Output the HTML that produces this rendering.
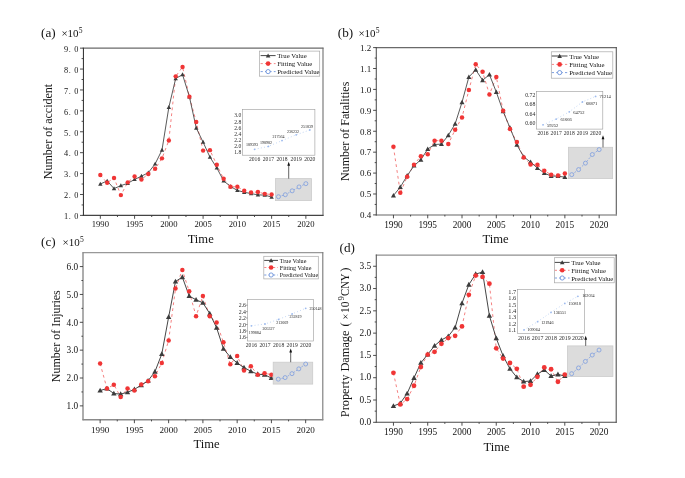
<!DOCTYPE html><html><head><meta charset="utf-8"><style>html,body{margin:0;padding:0;background:#fff;}svg{display:block;filter:blur(0.35px);}</style></head><body>
<svg width="685" height="478" viewBox="0 0 685 478" font-family='"Liberation Serif", serif' fill="#141414">
<rect width="685" height="478" fill="#fff"/>
<path d="M82.7 48.15H323.5" stroke="#6a6a6a" stroke-width="1.2"/>
<path d="M323 47.65V215.9" stroke="#707070" stroke-width="1.1"/>
<path d="M82.7 215.4H323.5" stroke="#444" stroke-width="1.1"/>
<path d="M83.45 47.65V215.9" stroke="#3a3a3a" stroke-width="1.1"/>
<path d="M80 215.4H83.2M80 194.49H83.2M80 173.59H83.2M80 152.68H83.2M80 131.78H83.2M80 110.87H83.2M80 89.96H83.2M80 69.06H83.2M80 48.15H83.2M81.6 204.95H83.2M81.6 184.04H83.2M81.6 163.13H83.2M81.6 142.23H83.2M81.6 121.32H83.2M81.6 100.42H83.2M81.6 79.51H83.2M81.6 58.6H83.2M100.33 215.4V218.8M134.59 215.4V218.8M168.84 215.4V218.8M203.1 215.4V218.8M237.36 215.4V218.8M271.61 215.4V218.8M305.87 215.4V218.8M117.46 215.4V217M151.71 215.4V217M185.97 215.4V217M220.23 215.4V217M254.49 215.4V217M288.74 215.4V217" stroke="#3a3a3a" stroke-width="0.9" fill="none"/>
<text x="79.05" y="216.7" font-size="8.3" text-anchor="end" dominant-baseline="central" letter-spacing="0.65">1. 0</text>
<text x="79.05" y="195.79" font-size="8.3" text-anchor="end" dominant-baseline="central" letter-spacing="0.65">2. 0</text>
<text x="79.05" y="174.89" font-size="8.3" text-anchor="end" dominant-baseline="central" letter-spacing="0.65">3. 0</text>
<text x="79.05" y="153.98" font-size="8.3" text-anchor="end" dominant-baseline="central" letter-spacing="0.65">4. 0</text>
<text x="79.05" y="133.08" font-size="8.3" text-anchor="end" dominant-baseline="central" letter-spacing="0.65">5. 0</text>
<text x="79.05" y="112.17" font-size="8.3" text-anchor="end" dominant-baseline="central" letter-spacing="0.65">6. 0</text>
<text x="79.05" y="91.26" font-size="8.3" text-anchor="end" dominant-baseline="central" letter-spacing="0.65">7. 0</text>
<text x="79.05" y="70.36" font-size="8.3" text-anchor="end" dominant-baseline="central" letter-spacing="0.65">8. 0</text>
<text x="79.05" y="49.45" font-size="8.3" text-anchor="end" dominant-baseline="central" letter-spacing="0.65">9. 0</text>
<text x="100.33" y="227.2" font-size="8.6" text-anchor="middle">1990</text>
<text x="134.59" y="227.2" font-size="8.6" text-anchor="middle">1995</text>
<text x="168.84" y="227.2" font-size="8.6" text-anchor="middle">2000</text>
<text x="203.1" y="227.2" font-size="8.6" text-anchor="middle">2005</text>
<text x="237.36" y="227.2" font-size="8.6" text-anchor="middle">2010</text>
<text x="271.61" y="227.2" font-size="8.6" text-anchor="middle">2015</text>
<text x="305.87" y="227.2" font-size="8.6" text-anchor="middle">2020</text>
<polyline points="100.33,175.05 107.18,182.79 114.03,177.98 120.88,195.12 127.73,182.37 134.59,176.51 141.44,179.44 148.29,174.01 155.14,168.78 161.99,158.33 168.84,140.56 175.69,76.37 182.55,66.97 189.4,96.65 196.25,121.95 203.1,150.59 209.95,150.17 216.8,164.81 223.65,178.81 230.51,186.76 237.36,186.76 244.21,190.73 251.06,192.4 257.91,191.99 264.76,193.87 271.61,194.49" fill="none" stroke="#f26a6a" stroke-width="0.85" stroke-dasharray="2.8 3.1"/>
<polyline points="100.33,183.98 107.18,180.94 114.03,188.58 120.88,185.64 127.73,183.3 134.59,179.47 141.44,176.16 148.29,172.71 155.14,163.94 161.99,149.99 168.84,107.32 175.69,78.48 182.55,74.67 189.4,96.76 196.25,128.04 203.1,142.18 209.95,157.12 216.8,167.9 223.65,180.86 230.51,186.48 237.36,190.41 244.21,192.23 251.06,193.62 257.91,194.83 264.76,195.16 271.61,197.05" fill="none" stroke="#3c3c3c" stroke-width="0.85"/>
<g fill="#3c3c3c"><path d="M100.33 181.67L102.53 185.63L98.13 185.63Z"/><path d="M107.18 178.63L109.38 182.59L104.98 182.59Z"/><path d="M114.03 186.27L116.23 190.23L111.83 190.23Z"/><path d="M120.88 183.33L123.08 187.29L118.68 187.29Z"/><path d="M127.73 180.99L129.93 184.95L125.53 184.95Z"/><path d="M134.59 177.16L136.79 181.12L132.39 181.12Z"/><path d="M141.44 173.85L143.64 177.81L139.24 177.81Z"/><path d="M148.29 170.4L150.49 174.36L146.09 174.36Z"/><path d="M155.14 161.63L157.34 165.59L152.94 165.59Z"/><path d="M161.99 147.68L164.19 151.64L159.79 151.64Z"/><path d="M168.84 105.01L171.04 108.97L166.64 108.97Z"/><path d="M175.69 76.17L177.89 80.13L173.49 80.13Z"/><path d="M182.55 72.36L184.75 76.32L180.35 76.32Z"/><path d="M189.4 94.45L191.6 98.41L187.2 98.41Z"/><path d="M196.25 125.73L198.45 129.69L194.05 129.69Z"/><path d="M203.1 139.87L205.3 143.83L200.9 143.83Z"/><path d="M209.95 154.81L212.15 158.77L207.75 158.77Z"/><path d="M216.8 165.59L219 169.55L214.6 169.55Z"/><path d="M223.65 178.55L225.85 182.51L221.45 182.51Z"/><path d="M230.51 184.17L232.71 188.13L228.31 188.13Z"/><path d="M237.36 188.1L239.56 192.06L235.16 192.06Z"/><path d="M244.21 189.92L246.41 193.88L242.01 193.88Z"/><path d="M251.06 191.31L253.26 195.27L248.86 195.27Z"/><path d="M257.91 192.52L260.11 196.48L255.71 196.48Z"/><path d="M264.76 192.85L266.96 196.81L262.56 196.81Z"/><path d="M271.61 194.74L273.81 198.7L269.41 198.7Z"/></g>
<g fill="#f03535"><circle cx="100.33" cy="175.05" r="2.2"/><circle cx="107.18" cy="182.79" r="2.2"/><circle cx="114.03" cy="177.98" r="2.2"/><circle cx="120.88" cy="195.12" r="2.2"/><circle cx="127.73" cy="182.37" r="2.2"/><circle cx="134.59" cy="176.51" r="2.2"/><circle cx="141.44" cy="179.44" r="2.2"/><circle cx="148.29" cy="174.01" r="2.2"/><circle cx="155.14" cy="168.78" r="2.2"/><circle cx="161.99" cy="158.33" r="2.2"/><circle cx="168.84" cy="140.56" r="2.2"/><circle cx="175.69" cy="76.37" r="2.2"/><circle cx="182.55" cy="66.97" r="2.2"/><circle cx="189.4" cy="96.65" r="2.2"/><circle cx="196.25" cy="121.95" r="2.2"/><circle cx="203.1" cy="150.59" r="2.2"/><circle cx="209.95" cy="150.17" r="2.2"/><circle cx="216.8" cy="164.81" r="2.2"/><circle cx="223.65" cy="178.81" r="2.2"/><circle cx="230.51" cy="186.76" r="2.2"/><circle cx="237.36" cy="186.76" r="2.2"/><circle cx="244.21" cy="190.73" r="2.2"/><circle cx="251.06" cy="192.4" r="2.2"/><circle cx="257.91" cy="191.99" r="2.2"/><circle cx="264.76" cy="193.87" r="2.2"/><circle cx="271.61" cy="194.49" r="2.2"/></g>
<rect x="275.5" y="178.6" width="35.9" height="22" fill="#dcdcdc" stroke="#cbcbcb" stroke-width="0.8"/>
<polyline points="278.47,196.71 285.32,194.71 292.17,190.82 299.02,186.92 305.87,183.66" fill="none" stroke="#7a9be0" stroke-width="0.7" stroke-dasharray="2 1.3"/>
<g fill="#dcdcdc" stroke="#7c9de0" stroke-width="0.8"><circle cx="278.47" cy="196.71" r="2.0"/><circle cx="285.32" cy="194.71" r="2.0"/><circle cx="292.17" cy="190.82" r="2.0"/><circle cx="299.02" cy="186.92" r="2.0"/><circle cx="305.87" cy="183.66" r="2.0"/></g>
<path d="M288.7 178.6V163.8" stroke="#222" stroke-width="0.7"/>
<path d="M288.7 161.8L290.1 165.8L287.3 165.8Z" fill="#111"/>
<rect x="259.4" y="51.1" width="60.3" height="25.1" fill="#fff" stroke="#a8a8a8" stroke-width="0.7"/>
<path d="M260.6 55.6H275.6" stroke="#3c3c3c" stroke-width="0.95"/>
<g fill="#3c3c3c"><path d="M268.1 53.39L270.4 57.53L265.8 57.53Z"/></g>
<path d="M260.6 63.6H275.6" stroke="#f26a6a" stroke-width="0.8" stroke-dasharray="2.2 2.2"/>
<circle cx="268.1" cy="63.6" r="2.3" fill="#f03535"/>
<path d="M260.6 71.6H275.6" stroke="#5b85d6" stroke-width="0.8" stroke-dasharray="2.2 2.2"/>
<circle cx="268.1" cy="71.6" r="2.1" fill="#fff" stroke="#5b85d6" stroke-width="0.8"/>
<text x="277.2" y="55.9" font-size="6.75" dominant-baseline="central">True Value</text>
<text x="277.2" y="63.9" font-size="6.75" dominant-baseline="central">Fitting Value</text>
<text x="277.2" y="71.9" font-size="6.75" dominant-baseline="central">Predicted Value</text>
<rect x="242.3" y="109.4" width="72.6" height="45.8" fill="#fff" stroke="#9a9a9a" stroke-width="0.6"/>
<text x="241.3" y="115.4" font-size="5.6" text-anchor="end" dominant-baseline="central" fill="#2a2a2a">3.0</text>
<text x="241.3" y="121.6" font-size="5.6" text-anchor="end" dominant-baseline="central" fill="#2a2a2a">2.8</text>
<text x="241.3" y="127.7" font-size="5.6" text-anchor="end" dominant-baseline="central" fill="#2a2a2a">2.6</text>
<text x="241.3" y="133.8" font-size="5.6" text-anchor="end" dominant-baseline="central" fill="#2a2a2a">2.4</text>
<text x="241.3" y="139.9" font-size="5.6" text-anchor="end" dominant-baseline="central" fill="#2a2a2a">2.2</text>
<text x="241.3" y="146" font-size="5.6" text-anchor="end" dominant-baseline="central" fill="#2a2a2a">2.0</text>
<text x="241.3" y="152.1" font-size="5.6" text-anchor="end" dominant-baseline="central" fill="#2a2a2a">1.8</text>
<text x="254.6" y="159.4" font-size="5.6" text-anchor="middle" dominant-baseline="central" fill="#2a2a2a">2016</text>
<text x="268.4" y="159.4" font-size="5.6" text-anchor="middle" dominant-baseline="central" fill="#2a2a2a">2017</text>
<text x="282" y="159.4" font-size="5.6" text-anchor="middle" dominant-baseline="central" fill="#2a2a2a">2018</text>
<text x="296.2" y="159.4" font-size="5.6" text-anchor="middle" dominant-baseline="central" fill="#2a2a2a">2019</text>
<text x="309.8" y="159.4" font-size="5.6" text-anchor="middle" dominant-baseline="central" fill="#2a2a2a">2020</text>
<polyline points="254.6,149.3 268.4,146.4 282,140.6 296.2,134.8 309.8,130" fill="none" stroke="#b8cff2" stroke-width="0.9" stroke-dasharray="0.9 2.3"/>
<g fill="#9dbaee"><circle cx="254.6" cy="149.3" r="0.9"/><circle cx="268.4" cy="146.4" r="0.9"/><circle cx="282" cy="140.6" r="0.9"/><circle cx="296.2" cy="134.8" r="0.9"/><circle cx="309.8" cy="130" r="0.9"/></g>
<text x="252.1" y="144.9" font-size="4.0" text-anchor="middle" dominant-baseline="central" fill="#1a1a1a">189393</text>
<text x="265.9" y="142.4" font-size="4.0" text-anchor="middle" dominant-baseline="central" fill="#1a1a1a">198982</text>
<text x="278.5" y="136.6" font-size="4.0" text-anchor="middle" dominant-baseline="central" fill="#1a1a1a">217564</text>
<text x="292.9" y="131.7" font-size="4.0" text-anchor="middle" dominant-baseline="central" fill="#1a1a1a">236232</text>
<text x="307.1" y="126.3" font-size="4.0" text-anchor="middle" dominant-baseline="central" fill="#1a1a1a">251839</text>
<text x="41" y="37" font-size="13.2">(a)</text>
<text x="61.4" y="37" font-size="11">×10</text><text x="78.8" y="32.8" font-size="7.6">5</text>
<text transform="translate(48.2 131.5) rotate(-90)" font-size="12.0" text-anchor="middle" dominant-baseline="central">Number of accident</text>
<text x="200.7" y="243" font-size="12.6" text-anchor="middle">Time</text>
<path d="M375.8 47.6H616.8" stroke="#6a6a6a" stroke-width="1.2"/>
<path d="M616.3 47.1V215.4" stroke="#5a5a5a" stroke-width="1.1"/>
<path d="M375.8 214.9H616.8" stroke="#999" stroke-width="1.5"/>
<path d="M376.3 47.1V215.4" stroke="#555" stroke-width="1.1"/>
<path d="M373.1 214.9H376.3M373.1 193.99H376.3M373.1 173.08H376.3M373.1 152.16H376.3M373.1 131.25H376.3M373.1 110.34H376.3M373.1 89.42H376.3M373.1 68.51H376.3M373.1 47.6H376.3M374.7 204.44H376.3M374.7 183.53H376.3M374.7 162.62H376.3M374.7 141.71H376.3M374.7 120.79H376.3M374.7 99.88H376.3M374.7 78.97H376.3M374.7 58.06H376.3M393.44 214.9V218.3M427.73 214.9V218.3M462.01 214.9V218.3M496.3 214.9V218.3M530.59 214.9V218.3M564.87 214.9V218.3M599.16 214.9V218.3M410.59 214.9V216.5M444.87 214.9V216.5M479.16 214.9V216.5M513.44 214.9V216.5M547.73 214.9V216.5M582.01 214.9V216.5" stroke="#3a3a3a" stroke-width="0.9" fill="none"/>
<text x="371.3" y="215.2" font-size="9.0" text-anchor="end" dominant-baseline="central">0.4</text>
<text x="371.3" y="194.29" font-size="9.0" text-anchor="end" dominant-baseline="central">0.5</text>
<text x="371.3" y="173.38" font-size="9.0" text-anchor="end" dominant-baseline="central">0.6</text>
<text x="371.3" y="152.46" font-size="9.0" text-anchor="end" dominant-baseline="central">0.7</text>
<text x="371.3" y="131.55" font-size="9.0" text-anchor="end" dominant-baseline="central">0.8</text>
<text x="371.3" y="110.64" font-size="9.0" text-anchor="end" dominant-baseline="central">0.9</text>
<text x="371.3" y="89.72" font-size="9.0" text-anchor="end" dominant-baseline="central">1.0</text>
<text x="371.3" y="68.81" font-size="9.0" text-anchor="end" dominant-baseline="central">1.1</text>
<text x="371.3" y="47.9" font-size="9.0" text-anchor="end" dominant-baseline="central">1.2</text>
<text x="393.44" y="227.6" font-size="9.3" text-anchor="middle">1990</text>
<text x="427.73" y="227.6" font-size="9.3" text-anchor="middle">1995</text>
<text x="462.01" y="227.6" font-size="9.3" text-anchor="middle">2000</text>
<text x="496.3" y="227.6" font-size="9.3" text-anchor="middle">2005</text>
<text x="530.59" y="227.6" font-size="9.3" text-anchor="middle">2010</text>
<text x="564.87" y="227.6" font-size="9.3" text-anchor="middle">2015</text>
<text x="599.16" y="227.6" font-size="9.3" text-anchor="middle">2020</text>
<polyline points="393.44,146.73 400.3,192.73 407.16,176.84 414.01,164.71 420.87,156.14 427.73,154.25 434.59,140.66 441.44,140.66 448.3,144.01 455.16,129.79 462.01,117.45 468.87,90.05 475.73,64.33 482.59,71.86 489.44,94.44 496.3,76.88 503.16,110.76 510.01,128.95 516.87,142.12 523.73,157.6 530.59,164.5 537.44,164.71 544.3,170.77 551.16,174.75 558.01,175.58 564.87,173.49" fill="none" stroke="#f26a6a" stroke-width="0.85" stroke-dasharray="2.8 3.1"/>
<polyline points="393.44,195.51 400.3,187.1 407.16,175.73 414.01,165.74 420.87,159.77 427.73,149.04 434.59,144.52 441.44,144.09 448.3,135.29 455.16,123.87 462.01,102.28 468.87,77.02 475.73,69.81 482.59,80.28 489.44,74.63 496.3,92.06 503.16,111.48 510.01,127.8 516.87,144.88 523.73,156.85 530.59,162.15 537.44,168.08 544.3,173.08 551.16,176.13 558.01,176.16 564.87,177.21" fill="none" stroke="#3c3c3c" stroke-width="0.85"/>
<g fill="#3c3c3c"><path d="M393.44 192.89L395.94 197.39L390.94 197.39Z"/><path d="M400.3 184.48L402.8 188.98L397.8 188.98Z"/><path d="M407.16 173.11L409.66 177.61L404.66 177.61Z"/><path d="M414.01 163.11L416.51 167.61L411.51 167.61Z"/><path d="M420.87 157.15L423.37 161.65L418.37 161.65Z"/><path d="M427.73 146.41L430.23 150.91L425.23 150.91Z"/><path d="M434.59 141.89L437.09 146.39L432.09 146.39Z"/><path d="M441.44 141.46L443.94 145.96L438.94 145.96Z"/><path d="M448.3 132.67L450.8 137.17L445.8 137.17Z"/><path d="M455.16 121.24L457.66 125.74L452.66 125.74Z"/><path d="M462.01 99.65L464.51 104.15L459.51 104.15Z"/><path d="M468.87 74.4L471.37 78.9L466.37 78.9Z"/><path d="M475.73 67.18L478.23 71.68L473.23 71.68Z"/><path d="M482.59 77.66L485.09 82.16L480.09 82.16Z"/><path d="M489.44 72L491.94 76.5L486.94 76.5Z"/><path d="M496.3 89.44L498.8 93.94L493.8 93.94Z"/><path d="M503.16 108.85L505.66 113.35L500.66 113.35Z"/><path d="M510.01 125.18L512.51 129.68L507.51 129.68Z"/><path d="M516.87 142.25L519.37 146.75L514.37 146.75Z"/><path d="M523.73 154.22L526.23 158.72L521.23 158.72Z"/><path d="M530.59 159.52L533.09 164.02L528.09 164.02Z"/><path d="M537.44 165.46L539.94 169.96L534.94 169.96Z"/><path d="M544.3 170.46L546.8 174.96L541.8 174.96Z"/><path d="M551.16 173.51L553.66 178.01L548.66 178.01Z"/><path d="M558.01 173.54L560.51 178.04L555.51 178.04Z"/><path d="M564.87 174.59L567.37 179.09L562.37 179.09Z"/></g>
<g fill="#f03535"><circle cx="393.44" cy="146.73" r="2.25"/><circle cx="400.3" cy="192.73" r="2.25"/><circle cx="407.16" cy="176.84" r="2.25"/><circle cx="414.01" cy="164.71" r="2.25"/><circle cx="420.87" cy="156.14" r="2.25"/><circle cx="427.73" cy="154.25" r="2.25"/><circle cx="434.59" cy="140.66" r="2.25"/><circle cx="441.44" cy="140.66" r="2.25"/><circle cx="448.3" cy="144.01" r="2.25"/><circle cx="455.16" cy="129.79" r="2.25"/><circle cx="462.01" cy="117.45" r="2.25"/><circle cx="468.87" cy="90.05" r="2.25"/><circle cx="475.73" cy="64.33" r="2.25"/><circle cx="482.59" cy="71.86" r="2.25"/><circle cx="489.44" cy="94.44" r="2.25"/><circle cx="496.3" cy="76.88" r="2.25"/><circle cx="503.16" cy="110.76" r="2.25"/><circle cx="510.01" cy="128.95" r="2.25"/><circle cx="516.87" cy="142.12" r="2.25"/><circle cx="523.73" cy="157.6" r="2.25"/><circle cx="530.59" cy="164.5" r="2.25"/><circle cx="537.44" cy="164.71" r="2.25"/><circle cx="544.3" cy="170.77" r="2.25"/><circle cx="551.16" cy="174.75" r="2.25"/><circle cx="558.01" cy="175.58" r="2.25"/><circle cx="564.87" cy="173.49" r="2.25"/></g>
<rect x="568.4" y="147.3" width="44.2" height="31.3" fill="#dcdcdc" stroke="#cbcbcb" stroke-width="0.8"/>
<polyline points="571.73,174.64 578.59,169.59 585.44,163.14 592.3,154.52 599.16,149.62" fill="none" stroke="#7a9be0" stroke-width="0.7" stroke-dasharray="2 1.3"/>
<g fill="#dcdcdc" stroke="#7c9de0" stroke-width="0.8"><circle cx="571.73" cy="174.64" r="2.0"/><circle cx="578.59" cy="169.59" r="2.0"/><circle cx="585.44" cy="163.14" r="2.0"/><circle cx="592.3" cy="154.52" r="2.0"/><circle cx="599.16" cy="149.62" r="2.0"/></g>
<path d="M603 147.3V137.3" stroke="#222" stroke-width="0.7"/>
<path d="M603 135.3L604.4 139.3L601.6 139.3Z" fill="#111"/>
<rect x="551.3" y="51.8" width="61.5" height="26.4" fill="#fff" stroke="#a8a8a8" stroke-width="0.7"/>
<path d="M551.8 56H567.5" stroke="#3c3c3c" stroke-width="0.95"/>
<g fill="#3c3c3c"><path d="M559.65 53.79L561.95 57.93L557.35 57.93Z"/></g>
<path d="M551.8 64.4H567.5" stroke="#f26a6a" stroke-width="0.8" stroke-dasharray="2.2 2.2"/>
<circle cx="559.65" cy="64.4" r="2.3" fill="#f03535"/>
<path d="M551.8 72.6H567.5" stroke="#5b85d6" stroke-width="0.8" stroke-dasharray="2.2 2.2"/>
<circle cx="559.65" cy="72.6" r="2.1" fill="#fff" stroke="#5b85d6" stroke-width="0.8"/>
<text x="569.3" y="56.3" font-size="6.8" dominant-baseline="central">True Value</text>
<text x="569.3" y="64.7" font-size="6.8" dominant-baseline="central">Fitting Value</text>
<text x="569.3" y="72.9" font-size="6.8" dominant-baseline="central">Predicted Value</text>
<rect x="536.5" y="91.3" width="66.3" height="37.8" fill="#fff" stroke="#9a9a9a" stroke-width="0.6"/>
<text x="535.3" y="94.5" font-size="5.8" text-anchor="end" dominant-baseline="central" fill="#2a2a2a">0.72</text>
<text x="535.3" y="104" font-size="5.8" text-anchor="end" dominant-baseline="central" fill="#2a2a2a">0.68</text>
<text x="535.3" y="113.5" font-size="5.8" text-anchor="end" dominant-baseline="central" fill="#2a2a2a">0.64</text>
<text x="535.3" y="123" font-size="5.8" text-anchor="end" dominant-baseline="central" fill="#2a2a2a">0.60</text>
<text x="543" y="133" font-size="5.6" text-anchor="middle" dominant-baseline="central" fill="#2a2a2a">2016</text>
<text x="556.2" y="133" font-size="5.6" text-anchor="middle" dominant-baseline="central" fill="#2a2a2a">2017</text>
<text x="569.3" y="133" font-size="5.6" text-anchor="middle" dominant-baseline="central" fill="#2a2a2a">2018</text>
<text x="582.4" y="133" font-size="5.6" text-anchor="middle" dominant-baseline="central" fill="#2a2a2a">2019</text>
<text x="595.6" y="133" font-size="5.6" text-anchor="middle" dominant-baseline="central" fill="#2a2a2a">2020</text>
<polyline points="543,124.8 556.2,119.1 569.3,111.8 582.4,102 595.6,96.4" fill="none" stroke="#b8cff2" stroke-width="0.9" stroke-dasharray="0.9 2.3"/>
<g fill="#9dbaee"><circle cx="543" cy="124.8" r="0.9"/><circle cx="556.2" cy="119.1" r="0.9"/><circle cx="569.3" cy="111.8" r="0.9"/><circle cx="582.4" cy="102" r="0.9"/><circle cx="595.6" cy="96.4" r="0.9"/></g>
<text x="552.5" y="125.2" font-size="4.5" text-anchor="middle" dominant-baseline="central" fill="#1a1a1a">59252</text>
<text x="566" y="119.5" font-size="4.5" text-anchor="middle" dominant-baseline="central" fill="#1a1a1a">61666</text>
<text x="578.8" y="112" font-size="4.5" text-anchor="middle" dominant-baseline="central" fill="#1a1a1a">64752</text>
<text x="591.6" y="103.7" font-size="4.5" text-anchor="middle" dominant-baseline="central" fill="#1a1a1a">68871</text>
<text x="605" y="96.2" font-size="4.5" text-anchor="middle" dominant-baseline="central" fill="#1a1a1a">71214</text>
<text x="337.8" y="37" font-size="13.2">(b)</text>
<text x="358.4" y="37" font-size="11">×10</text><text x="375.8" y="32.8" font-size="7.6">5</text>
<text transform="translate(345.2 131.3) rotate(-90)" font-size="12.0" text-anchor="middle" dominant-baseline="central">Number of Fatalities</text>
<text x="495.5" y="242.6" font-size="12.6" text-anchor="middle">Time</text>
<path d="M82.5 252.65H323.3" stroke="#999" stroke-width="1.4"/>
<path d="M322.8 252.15V420.3" stroke="#777" stroke-width="1.1"/>
<path d="M82.5 419.8H323.3" stroke="#8a8a8a" stroke-width="1.4"/>
<path d="M83 252.15V420.3" stroke="#8a8a8a" stroke-width="1.4"/>
<path d="M79.8 405.87H83M79.8 378.01H83M79.8 350.15H83M79.8 322.3H83M79.8 294.44H83M79.8 266.58H83M81.4 391.94H83M81.4 364.08H83M81.4 336.23H83M81.4 308.37H83M81.4 280.51H83M100.13 419.8V423.2M134.39 419.8V423.2M168.64 419.8V423.2M202.9 419.8V423.2M237.16 419.8V423.2M271.41 419.8V423.2M305.67 419.8V423.2M117.26 419.8V421.4M151.51 419.8V421.4M185.77 419.8V421.4M220.03 419.8V421.4M254.29 419.8V421.4M288.54 419.8V421.4" stroke="#3a3a3a" stroke-width="0.9" fill="none"/>
<text x="78.2" y="406.17" font-size="9.3" text-anchor="end" dominant-baseline="central">1.0</text>
<text x="78.2" y="378.31" font-size="9.3" text-anchor="end" dominant-baseline="central">2.0</text>
<text x="78.2" y="350.45" font-size="9.3" text-anchor="end" dominant-baseline="central">3.0</text>
<text x="78.2" y="322.6" font-size="9.3" text-anchor="end" dominant-baseline="central">4.0</text>
<text x="78.2" y="294.74" font-size="9.3" text-anchor="end" dominant-baseline="central">5.0</text>
<text x="78.2" y="266.88" font-size="9.3" text-anchor="end" dominant-baseline="central">6.0</text>
<text x="100.13" y="433.4" font-size="9.1" text-anchor="middle">1990</text>
<text x="134.39" y="433.4" font-size="9.1" text-anchor="middle">1995</text>
<text x="168.64" y="433.4" font-size="9.1" text-anchor="middle">2000</text>
<text x="202.9" y="433.4" font-size="9.1" text-anchor="middle">2005</text>
<text x="237.16" y="433.4" font-size="9.1" text-anchor="middle">2010</text>
<text x="271.41" y="433.4" font-size="9.1" text-anchor="middle">2015</text>
<text x="305.67" y="433.4" font-size="9.1" text-anchor="middle">2020</text>
<polyline points="100.13,363.53 106.98,388.6 113.83,384.7 120.68,396.96 127.53,388.6 134.39,390.55 141.24,384.42 148.09,381.36 154.94,376.34 161.79,362.97 168.64,340.4 175.49,288.59 182.35,269.92 189.2,291.37 196.05,316.17 202.9,296.11 209.75,316.17 216.6,322.57 223.45,342.35 230.31,364.36 237.16,356 244.01,370.49 250.86,366.31 257.71,374.67 264.56,373.28 271.41,374.67" fill="none" stroke="#f26a6a" stroke-width="0.85" stroke-dasharray="2.8 3.1"/>
<polyline points="100.13,390.53 106.98,388.59 113.83,393.54 120.68,394.1 127.53,392.27 134.39,389.35 141.24,385.13 148.09,380.76 154.94,371.68 161.79,354.03 168.64,317.08 175.49,281.49 182.35,277.14 189.2,296.06 196.05,299.77 202.9,302.82 209.75,313.62 216.6,327.74 223.45,348.78 230.31,357.08 237.16,362.95 244.01,367.59 250.86,371.24 257.71,374.19 264.56,374.7 271.41,378.05" fill="none" stroke="#3c3c3c" stroke-width="0.95"/>
<g fill="#3c3c3c"><path d="M100.13 387.69L102.83 392.55L97.43 392.55Z"/><path d="M106.98 385.76L109.68 390.62L104.28 390.62Z"/><path d="M113.83 390.7L116.53 395.56L111.13 395.56Z"/><path d="M120.68 391.27L123.38 396.13L117.98 396.13Z"/><path d="M127.53 389.44L130.23 394.3L124.83 394.3Z"/><path d="M134.39 386.51L137.09 391.37L131.69 391.37Z"/><path d="M141.24 382.3L143.94 387.16L138.54 387.16Z"/><path d="M148.09 377.93L150.79 382.79L145.39 382.79Z"/><path d="M154.94 368.85L157.64 373.71L152.24 373.71Z"/><path d="M161.79 351.2L164.49 356.06L159.09 356.06Z"/><path d="M168.64 314.25L171.34 319.11L165.94 319.11Z"/><path d="M175.49 278.65L178.19 283.51L172.79 283.51Z"/><path d="M182.35 274.31L185.05 279.17L179.65 279.17Z"/><path d="M189.2 293.23L191.9 298.09L186.5 298.09Z"/><path d="M196.05 296.93L198.75 301.79L193.35 301.79Z"/><path d="M202.9 299.98L205.6 304.84L200.2 304.84Z"/><path d="M209.75 310.79L212.45 315.65L207.05 315.65Z"/><path d="M216.6 324.91L219.3 329.77L213.9 329.77Z"/><path d="M223.45 345.95L226.15 350.81L220.75 350.81Z"/><path d="M230.31 354.25L233.01 359.11L227.61 359.11Z"/><path d="M237.16 360.11L239.86 364.97L234.46 364.97Z"/><path d="M244.01 364.75L246.71 369.61L241.31 369.61Z"/><path d="M250.86 368.4L253.56 373.26L248.16 373.26Z"/><path d="M257.71 371.35L260.41 376.21L255.01 376.21Z"/><path d="M264.56 371.87L267.26 376.73L261.86 376.73Z"/><path d="M271.41 375.21L274.11 380.07L268.71 380.07Z"/></g>
<g fill="#f03535"><circle cx="100.13" cy="363.53" r="2.25"/><circle cx="106.98" cy="388.6" r="2.25"/><circle cx="113.83" cy="384.7" r="2.25"/><circle cx="120.68" cy="396.96" r="2.25"/><circle cx="127.53" cy="388.6" r="2.25"/><circle cx="134.39" cy="390.55" r="2.25"/><circle cx="141.24" cy="384.42" r="2.25"/><circle cx="148.09" cy="381.36" r="2.25"/><circle cx="154.94" cy="376.34" r="2.25"/><circle cx="161.79" cy="362.97" r="2.25"/><circle cx="168.64" cy="340.4" r="2.25"/><circle cx="175.49" cy="288.59" r="2.25"/><circle cx="182.35" cy="269.92" r="2.25"/><circle cx="189.2" cy="291.37" r="2.25"/><circle cx="196.05" cy="316.17" r="2.25"/><circle cx="202.9" cy="296.11" r="2.25"/><circle cx="209.75" cy="316.17" r="2.25"/><circle cx="216.6" cy="322.57" r="2.25"/><circle cx="223.45" cy="342.35" r="2.25"/><circle cx="230.31" cy="364.36" r="2.25"/><circle cx="237.16" cy="356" r="2.25"/><circle cx="244.01" cy="370.49" r="2.25"/><circle cx="250.86" cy="366.31" r="2.25"/><circle cx="257.71" cy="374.67" r="2.25"/><circle cx="264.56" cy="373.28" r="2.25"/><circle cx="271.41" cy="374.67" r="2.25"/></g>
<rect x="273.2" y="362.2" width="39.5" height="21.9" fill="#dcdcdc" stroke="#cbcbcb" stroke-width="0.8"/>
<polyline points="278.27,379.16 285.12,377.59 291.97,373.65 298.82,368.87 305.67,364.04" fill="none" stroke="#7a9be0" stroke-width="0.7" stroke-dasharray="2 1.3"/>
<g fill="#dcdcdc" stroke="#7c9de0" stroke-width="0.8"><circle cx="278.27" cy="379.16" r="2.0"/><circle cx="285.12" cy="377.59" r="2.0"/><circle cx="291.97" cy="373.65" r="2.0"/><circle cx="298.82" cy="368.87" r="2.0"/><circle cx="305.67" cy="364.04" r="2.0"/></g>
<path d="M290.7 362.2V350.6" stroke="#222" stroke-width="0.7"/>
<path d="M290.7 348.6L292.1 352.6L289.3 352.6Z" fill="#111"/>
<rect x="247.5" y="299.3" width="66.1" height="41.7" fill="#fff" stroke="#9a9a9a" stroke-width="0.6"/>
<text x="246" y="305.2" font-size="5.8" text-anchor="end" dominant-baseline="central" fill="#2a2a2a">2.6</text>
<text x="246" y="311.6" font-size="5.8" text-anchor="end" dominant-baseline="central" fill="#2a2a2a">2.4</text>
<text x="246" y="318" font-size="5.8" text-anchor="end" dominant-baseline="central" fill="#2a2a2a">2.2</text>
<text x="246" y="324.5" font-size="5.8" text-anchor="end" dominant-baseline="central" fill="#2a2a2a">2.0</text>
<text x="246" y="331" font-size="5.8" text-anchor="end" dominant-baseline="central" fill="#2a2a2a">1.8</text>
<text x="246" y="337.4" font-size="5.8" text-anchor="end" dominant-baseline="central" fill="#2a2a2a">1.6</text>
<text x="251.4" y="344.6" font-size="5.6" text-anchor="middle" dominant-baseline="central" fill="#2a2a2a">2016</text>
<text x="265" y="344.6" font-size="5.6" text-anchor="middle" dominant-baseline="central" fill="#2a2a2a">2017</text>
<text x="278.6" y="344.6" font-size="5.6" text-anchor="middle" dominant-baseline="central" fill="#2a2a2a">2018</text>
<text x="292.2" y="344.6" font-size="5.6" text-anchor="middle" dominant-baseline="central" fill="#2a2a2a">2019</text>
<text x="305.7" y="344.6" font-size="5.6" text-anchor="middle" dominant-baseline="central" fill="#2a2a2a">2020</text>
<polyline points="251.4,325.8 265,324 278.6,319.4 292.2,313.9 305.7,308.3" fill="none" stroke="#b8cff2" stroke-width="0.9" stroke-dasharray="0.9 2.3"/>
<g fill="#9dbaee"><circle cx="251.4" cy="325.8" r="0.9"/><circle cx="265" cy="324" r="0.9"/><circle cx="278.6" cy="319.4" r="0.9"/><circle cx="292.2" cy="313.9" r="0.9"/><circle cx="305.7" cy="308.3" r="0.9"/></g>
<text x="254.7" y="332.8" font-size="4.0" text-anchor="middle" dominant-baseline="central" fill="#1a1a1a">199884</text>
<text x="268.5" y="328.4" font-size="4.0" text-anchor="middle" dominant-baseline="central" fill="#1a1a1a">205327</text>
<text x="282.3" y="322.2" font-size="4.0" text-anchor="middle" dominant-baseline="central" fill="#1a1a1a">213669</text>
<text x="295.4" y="316.6" font-size="4.0" text-anchor="middle" dominant-baseline="central" fill="#1a1a1a">232819</text>
<text x="315.4" y="308.2" font-size="4.0" text-anchor="middle" dominant-baseline="central" fill="#1a1a1a">250148</text>
<path d="M246.0 305.2H247.5M246.0 311.6H247.5M246.0 318H247.5M246.0 324.5H247.5M246.0 331H247.5M246.0 337.4H247.5" stroke="#666" stroke-width="0.6"/>
<text x="41" y="246" font-size="13.2">(c)</text>
<text x="62.6" y="246" font-size="11">×10</text><text x="80" y="241.8" font-size="7.6">5</text>
<text transform="translate(55.6 336.2) rotate(-90)" font-size="12.0" text-anchor="middle" dominant-baseline="central">Number of Injuries</text>
<text x="206.6" y="447.8" font-size="12.6" text-anchor="middle">Time</text>
<rect x="263.8" y="256.3" width="54.5" height="22.6" fill="#fff" stroke="#a8a8a8" stroke-width="0.7"/>
<path d="M264.2 260.4H278" stroke="#3c3c3c" stroke-width="0.95"/>
<g fill="#3c3c3c"><path d="M271.1 258.18L273.4 262.32L268.8 262.32Z"/></g>
<path d="M264.2 267.5H278" stroke="#f26a6a" stroke-width="0.8" stroke-dasharray="2.2 2.2"/>
<circle cx="271.1" cy="267.5" r="2.3" fill="#f03535"/>
<path d="M264.2 275H278" stroke="#5b85d6" stroke-width="0.8" stroke-dasharray="2.2 2.2"/>
<circle cx="271.1" cy="275" r="2.1" fill="#fff" stroke="#5b85d6" stroke-width="0.8"/>
<text x="279.8" y="260.7" font-size="6.1" dominant-baseline="central">True Value</text>
<text x="279.8" y="267.8" font-size="6.1" dominant-baseline="central">Fitting Value</text>
<text x="279.8" y="275.3" font-size="6.1" dominant-baseline="central">Predicted Value</text>
<path d="M375.8 255.1H616.7" stroke="#8f8f8f" stroke-width="1.4"/>
<path d="M616.2 254.6V422.8" stroke="#555" stroke-width="1.1"/>
<path d="M375.8 422.3H616.7" stroke="#4a4a4a" stroke-width="1.1"/>
<path d="M376.3 254.6V422.8" stroke="#5a5a5a" stroke-width="1.1"/>
<path d="M373.1 422.3H376.3M373.1 400.01H376.3M373.1 377.71H376.3M373.1 355.42H376.3M373.1 333.13H376.3M373.1 310.83H376.3M373.1 288.54H376.3M373.1 266.25H376.3M374.7 411.15H376.3M374.7 388.86H376.3M374.7 366.57H376.3M374.7 344.27H376.3M374.7 321.98H376.3M374.7 299.69H376.3M374.7 277.39H376.3M393.44 422.3V425.7M427.71 422.3V425.7M461.98 422.3V425.7M496.25 422.3V425.7M530.52 422.3V425.7M564.79 422.3V425.7M599.06 422.3V425.7M410.57 422.3V423.9M444.84 422.3V423.9M479.11 422.3V423.9M513.39 422.3V423.9M547.66 422.3V423.9M581.93 422.3V423.9" stroke="#3a3a3a" stroke-width="0.9" fill="none"/>
<text x="371.2" y="422" font-size="9.4" text-anchor="end" dominant-baseline="central">0.0</text>
<text x="371.2" y="399.71" font-size="9.4" text-anchor="end" dominant-baseline="central">0.5</text>
<text x="371.2" y="377.41" font-size="9.4" text-anchor="end" dominant-baseline="central">1.0</text>
<text x="371.2" y="355.12" font-size="9.4" text-anchor="end" dominant-baseline="central">1.5</text>
<text x="371.2" y="332.83" font-size="9.4" text-anchor="end" dominant-baseline="central">2.0</text>
<text x="371.2" y="310.53" font-size="9.4" text-anchor="end" dominant-baseline="central">2.5</text>
<text x="371.2" y="288.24" font-size="9.4" text-anchor="end" dominant-baseline="central">3.0</text>
<text x="371.2" y="265.95" font-size="9.4" text-anchor="end" dominant-baseline="central">3.5</text>
<text x="393.44" y="435.3" font-size="9.4" text-anchor="middle">1990</text>
<text x="427.71" y="435.3" font-size="9.4" text-anchor="middle">1995</text>
<text x="461.98" y="435.3" font-size="9.4" text-anchor="middle">2000</text>
<text x="496.25" y="435.3" font-size="9.4" text-anchor="middle">2005</text>
<text x="530.52" y="435.3" font-size="9.4" text-anchor="middle">2010</text>
<text x="564.79" y="435.3" font-size="9.4" text-anchor="middle">2015</text>
<text x="599.06" y="435.3" font-size="9.4" text-anchor="middle">2020</text>
<polyline points="393.44,372.81 400.29,404.47 407.14,399.11 414,385.74 420.85,367.01 427.71,354.53 434.56,351.85 441.42,343.83 448.27,338.03 455.12,335.8 461.98,326.44 468.83,294.78 475.69,275.61 482.54,276.95 489.4,283.64 496.25,348.29 503.1,358.54 509.96,363 516.81,368.8 523.67,386.63 530.52,384.85 537.38,376.82 544.23,367.46 551.08,369.24 557.94,381.73 564.79,374.59" fill="none" stroke="#f26a6a" stroke-width="0.85" stroke-dasharray="2.8 3.1"/>
<polyline points="393.44,406.07 400.29,403.22 407.14,393.54 414,377.89 420.85,362.85 427.71,354.38 434.56,345.74 441.42,339.98 448.27,336.29 455.12,327.6 461.98,303.3 468.83,284.62 475.69,274.09 482.54,272.09 489.4,315.69 496.25,338.3 503.1,355.87 509.96,368.84 516.81,377.27 523.67,381.55 530.52,381.01 537.38,374.19 544.23,369.91 551.08,375.97 557.94,374.37 564.79,376.06" fill="none" stroke="#3c3c3c" stroke-width="0.95"/>
<g fill="#3c3c3c"><path d="M393.44 403.24L396.14 408.1L390.74 408.1Z"/><path d="M400.29 400.38L402.99 405.24L397.59 405.24Z"/><path d="M407.14 390.71L409.84 395.57L404.44 395.57Z"/><path d="M414 375.06L416.7 379.92L411.3 379.92Z"/><path d="M420.85 360.01L423.55 364.87L418.15 364.87Z"/><path d="M427.71 351.55L430.41 356.41L425.01 356.41Z"/><path d="M434.56 342.91L437.26 347.77L431.86 347.77Z"/><path d="M441.42 337.15L444.12 342.01L438.72 342.01Z"/><path d="M448.27 333.46L450.97 338.32L445.57 338.32Z"/><path d="M455.12 324.76L457.82 329.62L452.42 329.62Z"/><path d="M461.98 300.46L464.68 305.32L459.28 305.32Z"/><path d="M468.83 281.78L471.53 286.64L466.13 286.64Z"/><path d="M475.69 271.26L478.39 276.12L472.99 276.12Z"/><path d="M482.54 269.25L485.24 274.11L479.84 274.11Z"/><path d="M489.4 312.86L492.1 317.72L486.7 317.72Z"/><path d="M496.25 335.46L498.95 340.32L493.55 340.32Z"/><path d="M503.1 353.03L505.8 357.89L500.4 357.89Z"/><path d="M509.96 366.01L512.66 370.87L507.26 370.87Z"/><path d="M516.81 374.43L519.51 379.29L514.11 379.29Z"/><path d="M523.67 378.71L526.37 383.57L520.97 383.57Z"/><path d="M530.52 378.18L533.22 383.04L527.82 383.04Z"/><path d="M537.38 371.36L540.08 376.22L534.68 376.22Z"/><path d="M544.23 367.08L546.93 371.94L541.53 371.94Z"/><path d="M551.08 373.14L553.78 378L548.38 378Z"/><path d="M557.94 371.53L560.64 376.39L555.24 376.39Z"/><path d="M564.79 373.23L567.49 378.09L562.09 378.09Z"/></g>
<g fill="#f03535"><circle cx="393.44" cy="372.81" r="2.4"/><circle cx="400.29" cy="404.47" r="2.4"/><circle cx="407.14" cy="399.11" r="2.4"/><circle cx="414" cy="385.74" r="2.4"/><circle cx="420.85" cy="367.01" r="2.4"/><circle cx="427.71" cy="354.53" r="2.4"/><circle cx="434.56" cy="351.85" r="2.4"/><circle cx="441.42" cy="343.83" r="2.4"/><circle cx="448.27" cy="338.03" r="2.4"/><circle cx="455.12" cy="335.8" r="2.4"/><circle cx="461.98" cy="326.44" r="2.4"/><circle cx="468.83" cy="294.78" r="2.4"/><circle cx="475.69" cy="275.61" r="2.4"/><circle cx="482.54" cy="276.95" r="2.4"/><circle cx="489.4" cy="283.64" r="2.4"/><circle cx="496.25" cy="348.29" r="2.4"/><circle cx="503.1" cy="358.54" r="2.4"/><circle cx="509.96" cy="363" r="2.4"/><circle cx="516.81" cy="368.8" r="2.4"/><circle cx="523.67" cy="386.63" r="2.4"/><circle cx="530.52" cy="384.85" r="2.4"/><circle cx="537.38" cy="376.82" r="2.4"/><circle cx="544.23" cy="367.46" r="2.4"/><circle cx="551.08" cy="369.24" r="2.4"/><circle cx="557.94" cy="381.73" r="2.4"/><circle cx="564.79" cy="374.59" r="2.4"/></g>
<rect x="567.6" y="345.9" width="45.3" height="30.6" fill="#dcdcdc" stroke="#cbcbcb" stroke-width="0.8"/>
<polyline points="571.65,373.67 578.5,367.93 585.36,361.42 592.21,355.06 599.06,350.05" fill="none" stroke="#7a9be0" stroke-width="0.7" stroke-dasharray="2 1.3"/>
<g fill="#dcdcdc" stroke="#7c9de0" stroke-width="0.8"><circle cx="571.65" cy="373.67" r="2.0"/><circle cx="578.5" cy="367.93" r="2.0"/><circle cx="585.36" cy="361.42" r="2.0"/><circle cx="592.21" cy="355.06" r="2.0"/><circle cx="599.06" cy="350.05" r="2.0"/></g>
<path d="M585.7 345.9V337.8" stroke="#222" stroke-width="0.7"/>
<path d="M585.7 335.8L587.1 339.8L584.3 339.8Z" fill="#111"/>
<rect x="554.4" y="257.7" width="59.8" height="25.1" fill="#fff" stroke="#a8a8a8" stroke-width="0.7"/>
<path d="M554.8 262.4H569.6" stroke="#3c3c3c" stroke-width="0.95"/>
<g fill="#3c3c3c"><path d="M562.2 260.18L564.5 264.32L559.9 264.32Z"/></g>
<path d="M554.8 270.3H569.6" stroke="#f26a6a" stroke-width="0.8" stroke-dasharray="2.2 2.2"/>
<circle cx="562.2" cy="270.3" r="2.3" fill="#f03535"/>
<path d="M554.8 278H569.6" stroke="#5b85d6" stroke-width="0.8" stroke-dasharray="2.2 2.2"/>
<circle cx="562.2" cy="278" r="2.1" fill="#fff" stroke="#5b85d6" stroke-width="0.8"/>
<text x="571.3" y="262.7" font-size="6.7" dominant-baseline="central">True Value</text>
<text x="571.3" y="270.6" font-size="6.7" dominant-baseline="central">Fitting Value</text>
<text x="571.3" y="278.3" font-size="6.7" dominant-baseline="central">Predicted Value</text>
<rect x="517.5" y="289.3" width="67" height="44" fill="#fff" stroke="#9a9a9a" stroke-width="0.6"/>
<text x="516.2" y="291.2" font-size="6.4" text-anchor="end" dominant-baseline="central" fill="#2a2a2a">1.7</text>
<text x="516.2" y="297.5" font-size="6.4" text-anchor="end" dominant-baseline="central" fill="#2a2a2a">1.6</text>
<text x="516.2" y="304" font-size="6.4" text-anchor="end" dominant-baseline="central" fill="#2a2a2a">1.5</text>
<text x="516.2" y="310.3" font-size="6.4" text-anchor="end" dominant-baseline="central" fill="#2a2a2a">1.4</text>
<text x="516.2" y="316.7" font-size="6.4" text-anchor="end" dominant-baseline="central" fill="#2a2a2a">1.3</text>
<text x="516.2" y="323.1" font-size="6.4" text-anchor="end" dominant-baseline="central" fill="#2a2a2a">1.2</text>
<text x="516.2" y="329.4" font-size="6.4" text-anchor="end" dominant-baseline="central" fill="#2a2a2a">1.1</text>
<text x="524" y="337.6" font-size="5.9" text-anchor="middle" dominant-baseline="central" fill="#2a2a2a">2016</text>
<text x="537.6" y="337.6" font-size="5.9" text-anchor="middle" dominant-baseline="central" fill="#2a2a2a">2017</text>
<text x="551" y="337.6" font-size="5.9" text-anchor="middle" dominant-baseline="central" fill="#2a2a2a">2018</text>
<text x="564.8" y="337.6" font-size="5.9" text-anchor="middle" dominant-baseline="central" fill="#2a2a2a">2019</text>
<text x="577.9" y="337.6" font-size="5.9" text-anchor="middle" dominant-baseline="central" fill="#2a2a2a">2020</text>
<polyline points="524,329.9 537.6,321.7 551,312.4 564.8,303.4 577.9,296.3" fill="none" stroke="#b8cff2" stroke-width="0.9" stroke-dasharray="0.9 2.3"/>
<g fill="#9dbaee"><circle cx="524" cy="329.9" r="0.9"/><circle cx="537.6" cy="321.7" r="0.9"/><circle cx="551" cy="312.4" r="0.9"/><circle cx="564.8" cy="303.4" r="0.9"/><circle cx="577.9" cy="296.3" r="0.9"/></g>
<text x="533.6" y="329.7" font-size="4.1" text-anchor="middle" dominant-baseline="central" fill="#1a1a1a">109064</text>
<text x="547.3" y="322.1" font-size="4.1" text-anchor="middle" dominant-baseline="central" fill="#1a1a1a">121946</text>
<text x="559.9" y="312.6" font-size="4.1" text-anchor="middle" dominant-baseline="central" fill="#1a1a1a">136551</text>
<text x="574.6" y="303.7" font-size="4.1" text-anchor="middle" dominant-baseline="central" fill="#1a1a1a">150818</text>
<text x="588.4" y="295.6" font-size="4.1" text-anchor="middle" dominant-baseline="central" fill="#1a1a1a">162034</text>
<text x="339.5" y="252" font-size="13.2">(d)</text>
<text transform="translate(348.6 430) rotate(-90)" x="12.8" y="0" font-size="12.35">Property Damage</text>
<text transform="translate(348.6 430) rotate(-90)" x="103.6" y="0" font-size="12.6">(</text>
<text transform="translate(348.6 430) rotate(-90)" x="110.4" y="0" font-size="10.5">×</text>
<text transform="translate(348.6 430) rotate(-90)" x="117" y="0" font-size="12.6" textLength="11.6" lengthAdjust="spacingAndGlyphs">10</text>
<text transform="translate(348.6 430) rotate(-90)" x="129.6" y="-4.6" font-size="8.6">9</text>
<text transform="translate(348.6 430) rotate(-90)" x="134" y="0" font-size="12.6" textLength="22.6" lengthAdjust="spacingAndGlyphs">CNY</text>
<text transform="translate(348.6 430) rotate(-90)" x="158.2" y="0" font-size="12.6">)</text>
<text x="496.5" y="450.8" font-size="12.6" text-anchor="middle">Time</text>
</svg></body></html>
